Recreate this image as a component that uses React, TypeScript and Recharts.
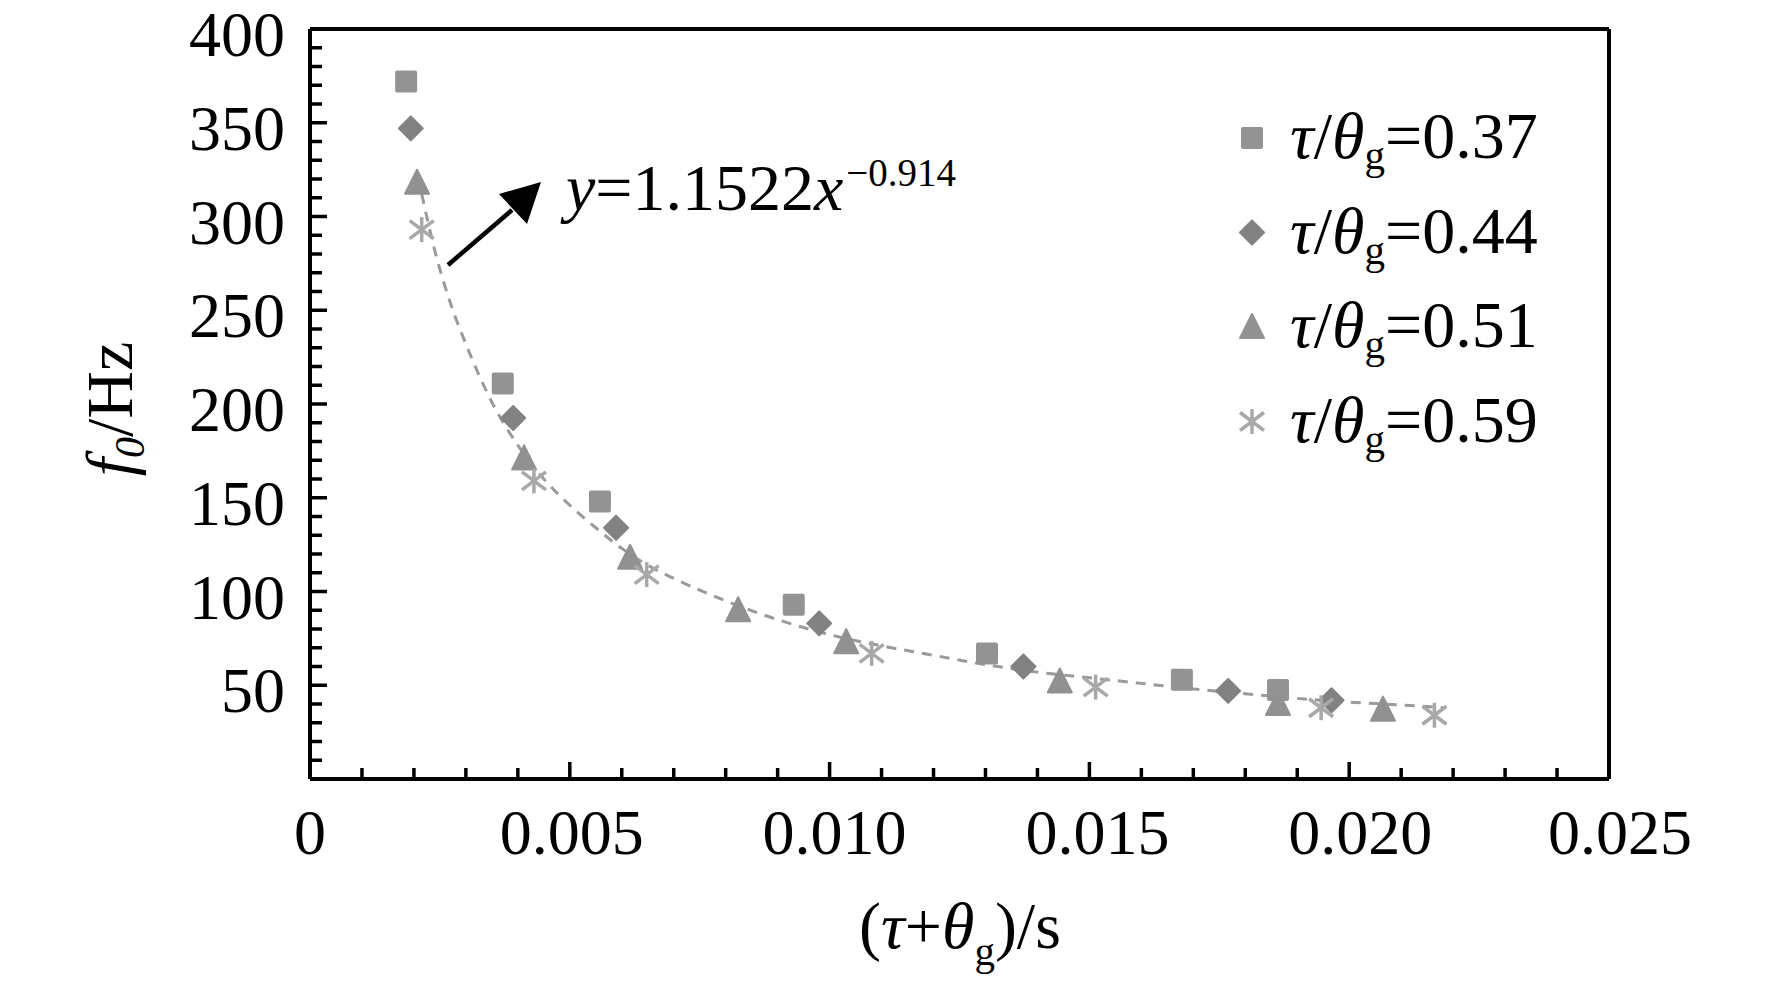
import React from 'react';
import { ComposedChart, Scatter, Line, XAxis, YAxis, ReferenceLine, Legend } from 'recharts';

const FONT = '"Liberation Serif", "Times New Roman", serif';

// ---- data ----
const seriesLabels = ['0.37', '0.44', '0.51', '0.59'];

const x037 = [0.00185, 0.00371, 0.00558, 0.00931, 0.01303, 0.01678, 0.01863];
const y037 = [372, 211, 148, 93, 67, 53, 47.5];

const x044 = [0.00194, 0.00391, 0.00589, 0.0098, 0.01373, 0.01767, 0.01966];
const y044 = [347, 192.5, 134, 83, 60, 47, 42];

const x051 = [0.00206, 0.00412, 0.00616, 0.00824, 0.01032, 0.01443, 0.01863, 0.02065];
const y051 = [318, 171, 118, 90, 73, 52, 40, 37];

const x059 = [0.00215, 0.00431, 0.00648, 0.01081, 0.01512, 0.01946, 0.02164];
const y059 = [293, 159, 109, 67, 49, 38, 34];

// dashed fitted curve
const fitX = [0.00215, 0.0024, 0.0027, 0.003, 0.0035, 0.004, 0.0045, 0.005, 0.0055, 0.006, 0.0065, 0.007, 0.008, 0.009, 0.010, 0.011, 0.012, 0.013, 0.014, 0.015, 0.016, 0.017, 0.018, 0.019, 0.020, 0.021, 0.0218];
const fitY = [312, 282, 254, 232, 201, 178, 160, 146, 134, 123, 114, 107, 95, 85, 77, 71, 66, 61, 57, 54, 51, 48, 45.5, 43, 41, 39.5, 38];

// ticks
const xTickValues = [0, 0.001, 0.002, 0.003, 0.004, 0.005, 0.006, 0.007, 0.008, 0.009, 0.010, 0.011, 0.012, 0.013, 0.014, 0.015, 0.016, 0.017, 0.018, 0.019, 0.020, 0.021, 0.022, 0.023, 0.024, 0.025];
const xLabelValues = [0, 0.005, 0.010, 0.015, 0.020, 0.025];
const xLabelTexts = ['0', '0.005', '0.010', '0.015', '0.020', '0.025'];
const yTickValues = [0, 10, 20, 30, 40, 50, 60, 70, 80, 90, 100, 110, 120, 130, 140, 150, 160, 170, 180, 190, 200, 210, 220, 230, 240, 250, 260, 270, 280, 290, 300, 310, 320, 330, 340, 350, 360, 370, 380, 390, 400];
const yLabelValues = [50, 100, 150, 200, 250, 300, 350, 400];
const yLabelTexts = ['50', '100', '150', '200', '250', '300', '350', '400'];

const zip = (xs: number[], ys: number[]) => xs.map((x, i) => ({ x, y: ys[i] }));
const data037 = zip(x037, y037);
const data044 = zip(x044, y044);
const data051 = zip(x051, y051);
const data059 = zip(x059, y059);
const fitData = zip(fitX, fitY);

// ---- layout constants ----
const W = 1772;
const H = 984;
const PLOT_LEFT = 310;
const PLOT_TOP = 29;
const PLOT_RIGHT = 1609;
const PLOT_BOTTOM = 779;
const Y_AXIS_W = 60;
const X_AXIS_H = 60;
const X_LABEL_DX = [0, 2, 5, 8, 11, 11];

const C_SQ = '#939393';
const C_DI = '#828282';
const C_TR = '#919191';
const C_AS = '#a8a8a8';
const C_FIT = '#9a9a9a';

// ---- marker shapes ----
const SquareMark = ({ cx, cy }: { cx: number; cy: number }) => (
  <rect x={cx - 11} y={cy - 11} width={22} height={22} rx={2} fill={C_SQ} />
);
const DiamondMark = ({ cx, cy }: { cx: number; cy: number }) => (
  <polygon
    points={`${cx},${cy - 12} ${cx + 12},${cy} ${cx},${cy + 12} ${cx - 12},${cy}`}
    fill={C_DI}
    stroke={C_DI}
    strokeWidth={2}
    strokeLinejoin="round"
  />
);
const TriangleMark = ({ cx, cy }: { cx: number; cy: number }) => (
  <polygon
    points={`${cx},${cy - 13} ${cx + 12},${cy + 11} ${cx - 12},${cy + 11}`}
    fill={C_TR}
    stroke={C_TR}
    strokeWidth={2}
    strokeLinejoin="round"
  />
);
const AsteriskMark = ({ cx, cy }: { cx: number; cy: number }) => (
  <g stroke={C_AS} strokeWidth={3.5} strokeLinecap="butt">
    <line x1={cx} y1={cy - 12.5} x2={cx} y2={cy + 12.5} />
    <line x1={cx - 12} y1={cy - 9} x2={cx + 12} y2={cy + 9} />
    <line x1={cx - 12} y1={cy + 9} x2={cx + 12} y2={cy - 9} />
  </g>
);
const markers = [SquareMark, DiamondMark, TriangleMark, AsteriskMark];

// ---- axis ticks ----
const XTick = (props: any) => {
  const { x, payload } = props;
  const v = payload.value as number;
  const idx = Math.round(v * 1000);
  const major = idx % 5 === 0;
  const li = xLabelValues.findIndex((lv) => Math.round(lv * 1000) === idx);
  return (
    <g>
      {idx > 0 && idx < 25 && (
        <line x1={x} x2={x} y1={PLOT_BOTTOM} y2={PLOT_BOTTOM - (major ? 17 : 11)} stroke="#000" strokeWidth={3.5} />
      )}
      {li >= 0 && (
        <text x={x + X_LABEL_DX[li]} y={854} textAnchor="middle" fontFamily={FONT} fontSize={64} fill="#000">
          {xLabelTexts[li]}
        </text>
      )}
    </g>
  );
};

const YTick = (props: any) => {
  const { y, payload } = props;
  const v = payload.value as number;
  const major = v % 50 === 0;
  const li = yLabelValues.indexOf(v);
  return (
    <g>
      {v > 0 && v < 400 && (
        <line x1={PLOT_LEFT} x2={PLOT_LEFT + (major ? 17 : 12)} y1={y} y2={y} stroke="#000" strokeWidth={3.5} />
      )}
      {li >= 0 && (
        <text x={285} y={y + 27} textAnchor="end" fontFamily={FONT} fontSize={64} fill="#000">
          {yLabelTexts[li]}
        </text>
      )}
    </g>
  );
};

// ---- legend ----
const LEG_LEFT = 1220;
const LEG_TOP = 90;
const legendBaselines = [158, 252.5, 347, 441.5];

const LegendBox = () => (
  <svg width={400} height={380} style={{ overflow: 'visible', display: 'block' }}>
    {seriesLabels.map((lab, i) => {
      const M = markers[i];
      const base = legendBaselines[i] - LEG_TOP;
      return (
        <g key={lab}>
          <M cx={1252 - LEG_LEFT} cy={base - 20} />
          <text x={1290 - LEG_LEFT} y={base} fontFamily={FONT} fontSize={66} fill="#000">
            <tspan fontStyle="italic">τ</tspan>
            <tspan>/</tspan>
            <tspan fontStyle="italic">θ</tspan>
            <tspan fontSize={41} dy={11}>g</tspan>
            <tspan dy={-11}>={lab}</tspan>
          </text>
        </g>
      );
    })}
  </svg>
);

// ---- annotation overlay ----
const Overlay = () => (
  <svg
    width={W}
    height={H}
    style={{ position: 'absolute', left: 0, top: 0, pointerEvents: 'none' }}
  >
    {/* arrow */}
    <line x1={448} y1={265} x2={512} y2={210} stroke="#000" strokeWidth={4.5} />
    <polygon points="541,182 499,194 527,224" fill="#000" />
    {/* fit equation */}
    <text x={566} y={210} fontFamily={FONT} fontSize={66} fill="#000">
      <tspan fontStyle="italic">y</tspan>
      <tspan>=1.1522</tspan>
      <tspan fontStyle="italic">x</tspan>
      <tspan fontSize={39} dy={-24} dx={3}>−0.914</tspan>
    </text>
    {/* y axis title */}
    <text
      x={132}
      y={409}
      transform="rotate(-90 132 409)"
      textAnchor="middle"
      fontFamily={FONT}
      fontSize={66}
      fill="#000"
    >
      <tspan fontStyle="italic">f</tspan>
      <tspan fontStyle="italic" fontSize={42} dy={12}>0</tspan>
      <tspan dy={-12}>/Hz</tspan>
    </text>
    {/* x axis title */}
    <text x={960} y={948} textAnchor="middle" fontFamily={FONT} fontSize={66} fill="#000">
      <tspan>(</tspan>
      <tspan fontStyle="italic">τ</tspan>
      <tspan>+</tspan>
      <tspan fontStyle="italic">θ</tspan>
      <tspan fontSize={41} dy={17}>g</tspan>
      <tspan dy={-17}>)/s</tspan>
    </text>
  </svg>
);

export default function App() {
  const seriesData = [data037, data044, data051, data059];
  return (
    <div style={{ position: 'absolute', left: 0, top: 0, width: W, height: H, background: '#fff', overflow: 'hidden' }}>
      <ComposedChart
        width={W}
        height={H}
        margin={{
          top: PLOT_TOP,
          right: W - PLOT_RIGHT,
          bottom: H - PLOT_BOTTOM - X_AXIS_H,
          left: PLOT_LEFT - Y_AXIS_W,
        }}
      >
        <XAxis
          type="number"
          dataKey="x"
          domain={[0, 0.025]}
          ticks={xTickValues}
          interval={0}
          allowDataOverflow
          height={X_AXIS_H}
          tickLine={false}
          axisLine={{ stroke: '#000', strokeWidth: 4 }}
          tick={<XTick />}
        />
        <YAxis
          type="number"
          dataKey="y"
          domain={[0, 400]}
          ticks={yTickValues}
          interval={0}
          allowDataOverflow
          width={Y_AXIS_W}
          tickLine={false}
          axisLine={{ stroke: '#000', strokeWidth: 4 }}
          tick={<YTick />}
        />
        <ReferenceLine y={400} stroke="#000" strokeWidth={4} />
        <ReferenceLine x={0.025} stroke="#000" strokeWidth={4} />
        <Line
          data={fitData}
          dataKey="y"
          type="monotone"
          stroke={C_FIT}
          strokeWidth={3}
          strokeDasharray="10 8"
          dot={false}
          activeDot={false}
          isAnimationActive={false}
          legendType="none"
        />
        {seriesData.map((d, i) => {
          const M = markers[i];
          return (
            <Scatter
              key={seriesLabels[i]}
              name={`τ/θg=${seriesLabels[i]}`}
              data={d}
              isAnimationActive={false}
              shape={(p: any) => <M cx={p.cx} cy={p.cy} />}
            />
          );
        })}
        <Legend
          layout="vertical"
          align="center"
          verticalAlign="middle"
          wrapperStyle={{ position: 'absolute', left: LEG_LEFT, top: LEG_TOP, width: 400, height: 380 }}
          content={() => <LegendBox />}
        />
      </ComposedChart>
      <Overlay />
    </div>
  );
}
